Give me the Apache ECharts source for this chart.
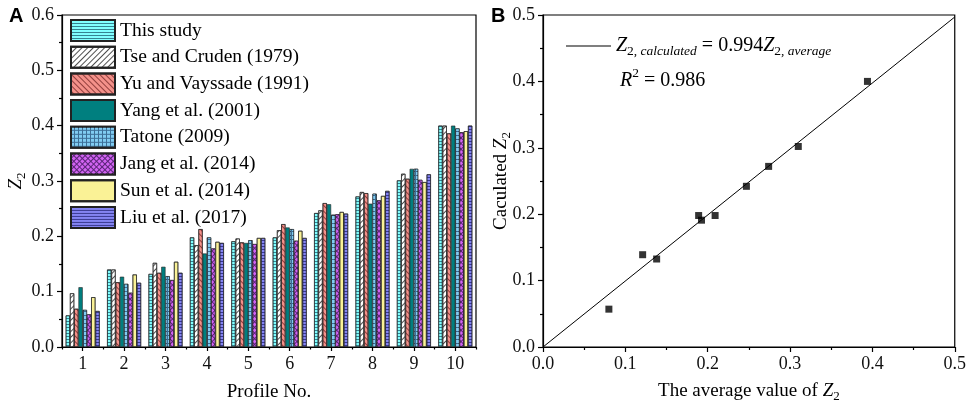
<!DOCTYPE html>
<html>
<head>
<meta charset="utf-8">
<script src="https://cdn.jsdelivr.net/npm/echarts@6/dist/echarts.min.js"></script>
<style>
  html, body { margin: 0; padding: 0; background: #fff; }
  #chart { width: 969px; height: 410px; }
</style>
</head>
<body>
<div id="chart"></div>
<script>
// panel A: Z2 per profile
const profiles = ['1', '2', '3', '4', '5', '6', '7', '8', '9', '10'];
const thisStudy  = [0.057, 0.140, 0.132, 0.198, 0.191, 0.198, 0.242, 0.272, 0.301, 0.400];
const tseCruden  = [0.097, 0.140, 0.152, 0.184, 0.196, 0.211, 0.247, 0.280, 0.313, 0.400];
const yuVayssade = [0.069, 0.117, 0.134, 0.213, 0.189, 0.222, 0.260, 0.278, 0.304, 0.386];
const yang2001   = [0.108, 0.127, 0.145, 0.169, 0.188, 0.216, 0.258, 0.259, 0.322, 0.400];
const tatone2009 = [0.067, 0.114, 0.128, 0.198, 0.193, 0.213, 0.239, 0.277, 0.322, 0.395];
const jang2014   = [0.059, 0.098, 0.121, 0.178, 0.186, 0.192, 0.240, 0.265, 0.302, 0.388];
const sun2014    = [0.090, 0.131, 0.154, 0.190, 0.197, 0.210, 0.244, 0.273, 0.298, 0.390];
const liu2017    = [0.065, 0.116, 0.134, 0.188, 0.197, 0.197, 0.241, 0.282, 0.312, 0.400];
const seriesNames = ['This study', 'Tse and Cruden (1979)', 'Yu and Vayssade (1991)', 'Yang et al. (2001)',
  'Tatone (2009)', 'Jang et al. (2014)', 'Sun et al. (2014)', 'Liu et al. (2017)'];
const seriesValues = [thisStudy, tseCruden, yuVayssade, yang2001, tatone2009, jang2014, sun2014, liu2017];

// panel B: calculated vs average
const averageZ2    = [0.080, 0.121, 0.138, 0.189, 0.1925, 0.209, 0.247, 0.274, 0.310, 0.394];
const calculatedZ2 = [0.057, 0.139, 0.1325, 0.198, 0.191, 0.198, 0.242, 0.272, 0.302, 0.400];
const fitX = [0, 0.5];
const fitY = [0, 0.497];

const FONT = 'Liberation Serif';

// fill patterns
const hLines = function (c) {
  return { symbol: 'rect', symbolSize: 1, dashArrayX: [[4, 0]], dashArrayY: [1, 2], color: c };
};
const styles = [
  { color: '#80FFFF', decal: hLines('rgba(30,90,110,0.75)') },
  { color: '#FFFFFF', decal: { symbol: 'rect', symbolSize: 1, dashArrayX: [[4, 0]], dashArrayY: [1, 3], rotation: -Math.PI / 4, color: 'rgba(60,60,60,0.9)' } },
  { color: '#F4918A', decal: { symbol: 'rect', symbolSize: 1, dashArrayX: [[4, 0]], dashArrayY: [1, 3], rotation: Math.PI / 4, color: 'rgba(120,40,40,0.8)' } },
  { color: '#007F7F', decal: 'none' },
  // grid: dark base with light squares on top
  { color: '#3C6E96', decal: { symbol: 'rect', symbolSize: 1, dashArrayX: [[3, 1]], dashArrayY: [3, 1], color: '#80CCF2' } },
  { color: '#5A2478', decal: { symbol: 'rect', symbolSize: 1, dashArrayX: [[3, 1]], dashArrayY: [3, 1], rotation: Math.PI / 4, color: '#D264F2' } },
  { color: '#FAF296', decal: { symbol: 'rect', symbolSize: 1, dashArrayX: [1, 2], dashArrayY: [[4, 0]], color: 'rgba(110,100,50,0.8)' } },
  { color: '#8484F2', decal: hLines('rgba(40,40,120,0.8)') }
];

const barSeries = seriesNames.map(function (name, i) {
  return {
    name: name,
    type: 'bar',
    xAxisIndex: 0,
    yAxisIndex: 0,
    barGap: 0,
    barCategoryGap: '18%',
    itemStyle: {
      color: styles[i].color,
      borderColor: '#222',
      borderWidth: 0.6,
      decal: styles[i].decal === 'none' ? null : styles[i].decal
    },
    data: seriesValues[i]
  };
});

const axisLine = { show: true, lineStyle: { color: '#000', width: 1.2 } };
const tickLabel = { color: '#111', fontFamily: FONT, fontSize: 18, margin: 8 };
const fixed1 = function (v) { return v.toFixed(1); };
const nameRich = {
  n: { fontFamily: FONT, fontSize: 19, color: '#000' },
  i: { fontFamily: FONT, fontSize: 19, fontStyle: 'italic', color: '#000' },
  s: { fontFamily: FONT, fontSize: 13, color: '#000', padding: [11, 0, 0, 0] }
};

const chart = echarts.init(document.getElementById('chart'));
const option = {
  animation: false,
  title: [
    { text: 'A', left: 4, top: 1, textStyle: { fontFamily: 'Liberation Sans', fontWeight: 'bold', fontSize: 20, color: '#000' } },
    { text: 'B', left: 486, top: 1, textStyle: { fontFamily: 'Liberation Sans', fontWeight: 'bold', fontSize: 20, color: '#000' } },
    {
      text: '{i|R}{p|2}{n| = 0.986}', left: 615, top: 61,
      textStyle: {
        fontWeight: 'normal',
        rich: {
          n: { fontFamily: FONT, fontSize: 20, fontWeight: 'normal', color: '#000' },
          i: { fontFamily: FONT, fontSize: 20, fontWeight: 'normal', fontStyle: 'italic', color: '#000' },
          p: { fontFamily: FONT, fontSize: 13.5, fontWeight: 'normal', color: '#000', padding: [0, 0, 15, 0] }
        }
      }
    }
  ],
  legend: [
    {
      data: seriesNames,
      orient: 'vertical',
      left: 70,
      top: 19,
      padding: 0,
      itemWidth: 44,
      itemHeight: 21,
      itemGap: 3.7,
      icon: 'rect',
      selectedMode: false,
      textStyle: { fontFamily: FONT, fontSize: 19.5, color: '#000', lineHeight: 21 }
    },
    {
      data: ['fit'],
      left: 566,
      top: 36,
      padding: 0,
      itemWidth: 45,
      itemHeight: 1,
      icon: 'rect',
      selectedMode: false,
      formatter: function () {
        return '{i|Z}{s|2, }{si|calculated}{n| = 0.994}{i|Z}{s|2, }{si|average}';
      },
      textStyle: {
        rich: {
          n: { fontFamily: FONT, fontSize: 20, color: '#000' },
          i: { fontFamily: FONT, fontSize: 20, fontStyle: 'italic', color: '#000' },
          s: { fontFamily: FONT, fontSize: 13.5, color: '#000', padding: [11, 0, 0, 0] },
          si: { fontFamily: FONT, fontSize: 13.5, fontStyle: 'italic', color: '#000', padding: [11, 0, 0, 0] }
        }
      }
    }
  ],
  grid: [
    { left: 62, top: 15, width: 414, height: 332, show: true, borderColor: '#000', borderWidth: 1.2, backgroundColor: 'transparent' },
    { left: 543, top: 15, width: 413, height: 332, show: true, borderColor: '#000', borderWidth: 1.2, backgroundColor: 'transparent' }
  ],
  xAxis: [
    {
      gridIndex: 0,
      type: 'category',
      position: 'bottom',
      data: profiles,
      axisLine: axisLine,
      axisTick: { show: true, alignWithLabel: true, length: 4, lineStyle: { color: '#000', width: 1.2 } },
      axisLabel: tickLabel,
      name: 'Profile No.',
      nameLocation: 'middle',
      nameGap: 36,
      nameMoveOverlap: false,
      nameTextStyle: { fontFamily: FONT, fontSize: 19, color: '#000' }
    },
    {
      gridIndex: 0,
      type: 'category',
      position: 'bottom',
      data: profiles,
      axisLine: { show: false },
      axisTick: { show: true, length: 2.5, lineStyle: { color: '#000', width: 1.2 } },
      axisLabel: { show: false }
    },
    {
      gridIndex: 1,
      type: 'value',
      min: 0,
      max: 0.5,
      interval: 0.1,
      axisLine: axisLine,
      axisTick: { show: true, length: 5, lineStyle: { color: '#000', width: 1.2 } },
      minorTick: { show: true, splitNumber: 2, length: 3, lineStyle: { color: '#000', width: 1.2 } },
      splitLine: { show: false },
      axisLabel: Object.assign({ formatter: fixed1 }, tickLabel),
      name: 'The average value of {i|Z}{s|2}',
      nameLocation: 'middle',
      nameGap: 32,
      nameMoveOverlap: false,
      nameTextStyle: { fontFamily: FONT, fontSize: 19, color: '#000', rich: nameRich }
    }
  ],
  yAxis: [
    {
      gridIndex: 0,
      type: 'value',
      min: 0,
      max: 0.6,
      interval: 0.1,
      axisLine: axisLine,
      axisTick: { show: true, length: 5, lineStyle: { color: '#000', width: 1.2 } },
      minorTick: { show: true, splitNumber: 2, length: 3, lineStyle: { color: '#000', width: 1.2 } },
      splitLine: { show: false },
      axisLabel: Object.assign({ formatter: fixed1 }, tickLabel),
      name: '{i|Z}{s|2}',
      nameLocation: 'middle',
      nameGap: 34,
      nameMoveOverlap: false,
      nameTextStyle: { fontFamily: FONT, fontSize: 19, color: '#000', rich: nameRich }
    },
    {
      gridIndex: 1,
      type: 'value',
      min: 0,
      max: 0.5,
      interval: 0.1,
      axisLine: axisLine,
      axisTick: { show: true, length: 5, lineStyle: { color: '#000', width: 1.2 } },
      minorTick: { show: true, splitNumber: 2, length: 3, lineStyle: { color: '#000', width: 1.2 } },
      splitLine: { show: false },
      axisLabel: Object.assign({ formatter: fixed1 }, tickLabel),
      name: 'Caculated {i|Z}{s|2}',
      nameLocation: 'middle',
      nameGap: 30,
      nameMoveOverlap: false,
      nameTextStyle: { fontFamily: FONT, fontSize: 19, color: '#000', rich: nameRich }
    }
  ],
  series: barSeries.concat([
    {
      name: 'fit',
      type: 'line',
      xAxisIndex: 2,
      yAxisIndex: 1,
      showSymbol: false,
      lineStyle: { color: '#000', width: 1 },
      itemStyle: { color: '#000' },
      data: fitX.map(function (x, i) { return [x, fitY[i]]; })
    },
    {
      name: 'points',
      type: 'scatter',
      xAxisIndex: 2,
      yAxisIndex: 1,
      symbol: 'rect',
      symbolSize: 7,
      itemStyle: { color: '#000' },
      data: averageZ2.map(function (x, i) { return [x, calculatedZ2[i]]; })
    }
  ])
};
chart.setOption(option);
</script>
</body>
</html>
